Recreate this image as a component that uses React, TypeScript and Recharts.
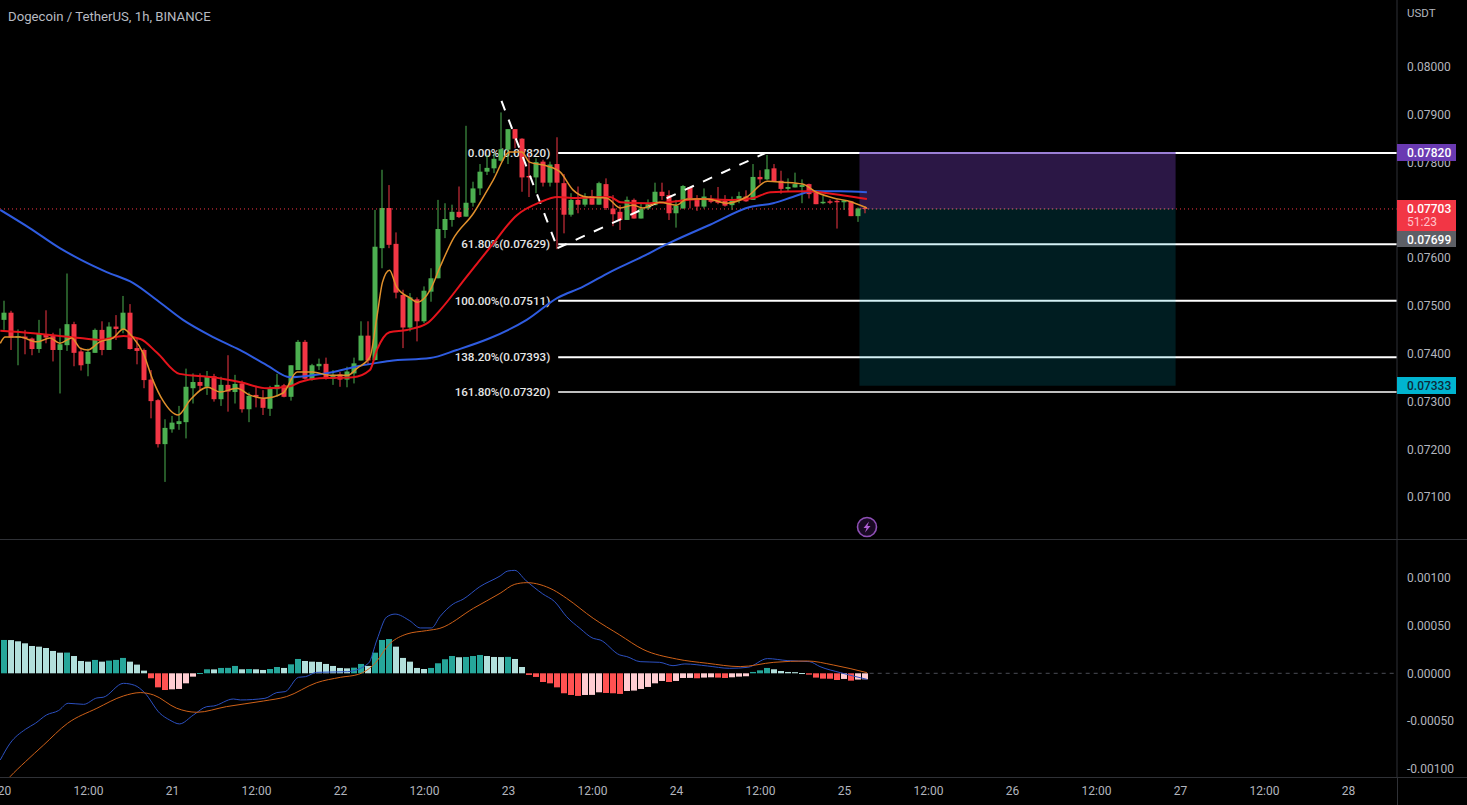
import React from "react";
import { ComposedChart, Bar, Line, XAxis, YAxis, ReferenceLine, ReferenceArea } from "recharts";

const opens = [
  .07471,.07486,.07434,.07436,.07432,.07410,.07441,.07437,.07408,.07418,.07462,.07405,.07379,.07402,.07450,.07408,.07457,.07450,.07486,.07412,
  .07408,.07346,.07303,.07211,.07242,.07253,.07257,.07328,.07341,.07331,.07353,.07305,.07335,.07320,.07338,.07284,.07314,.07307,.07285,.07326,
  .07334,.07310,.07366,.07425,.07346,.07374,.07379,.07348,.07357,.07346,.07359,.07386,.07438,.07387,.07621,.07705,.07630,.07523,.07455,.07514,
  .07468,.07530,.07558,.07659,.07680,.07697,.07687,.07716,.07746,.07781,.07788,.07804,.07827,.07870,.07850,.07772,.07769,.07802,.07758,.07797,
  .07757,.07691,.07722,.07712,.07730,.07712,.07755,.07704,.07697,.07680,.07722,.07683,.07704,.07711,.07739,.07732,.07694,.07704,.07749,.07725,
  .07708,.07725,.07723,.07720,.07711,.07722,.07729,.07722,.07770,.07765,.07788,.07762,.07745,.07748,.07749,.07755,.07739,.07715,.07719,.07720,
  .07717,.07719,.07688,.07705,
];
const closes = [
  .07486,.07434,.07437,.07432,.07410,.07443,.07434,.07408,.07420,.07462,.07402,.07376,.07404,.07450,.07408,.07457,.07452,.07486,.07410,.07406,
  .07345,.07301,.07211,.07245,.07256,.07259,.07331,.07341,.07333,.07353,.07305,.07335,.07321,.07337,.07284,.07312,.07310,.07287,.07328,.07335,
  .07310,.07376,.07425,.07348,.07376,.07379,.07348,.07356,.07346,.07363,.07380,.07438,.07386,.07624,.07705,.07628,.07528,.07455,.07518,.07468,
  .07532,.07558,.07661,.07682,.07697,.07686,.07716,.07746,.07781,.07789,.07808,.07828,.07870,.07850,.07769,.07769,.07801,.07758,.07796,.07758,
  .07691,.07722,.07712,.07730,.07712,.07757,.07705,.07692,.07680,.07722,.07683,.07704,.07713,.07739,.07730,.07694,.07710,.07751,.07725,.07708,
  .07729,.07718,.07716,.07710,.07723,.07730,.07719,.07770,.07765,.07786,.07761,.07745,.07749,.07755,.07753,.07734,.07713,.07718,.07716,.07717,
  .07721,.07688,.07704,.07703,
];
const highs = [
  .07511,.07490,.07451,.07450,.07434,.07471,.07491,.07444,.07453,.07568,.07467,.07413,.07411,.07453,.07468,.07466,.07481,.07521,.07504,.07432,
  .07411,.07366,.07305,.07263,.07270,.07291,.07369,.07359,.07359,.07364,.07358,.07352,.07397,.07356,.07344,.07319,.07333,.07324,.07333,.07358,
  .07337,.07376,.07429,.07429,.07379,.07390,.07392,.07366,.07362,.07373,.07392,.07468,.07468,.07701,.07785,.07753,.07654,.07534,.07527,.07518,
  .07541,.07579,.07722,.07715,.07712,.07750,.07877,.07760,.07797,.07816,.07820,.07905,.07870,.07870,.07851,.07820,.07809,.07806,.07802,.07853,
  .07776,.07736,.07750,.07736,.07743,.07760,.07767,.07732,.07711,.07729,.07725,.07715,.07723,.07758,.07758,.07742,.07722,.07753,.07749,.07732,
  .07746,.07732,.07749,.07732,.07729,.07739,.07742,.07797,.07784,.07816,.07797,.07783,.07767,.07779,.07765,.07756,.07742,.07730,.07723,.07723,
  .07722,.07720,.07706,.07709,
];
const lows = [
  .07450,.07408,.07376,.07399,.07397,.07402,.07422,.07384,.07317,.07406,.07374,.07365,.07353,.07402,.07397,.07408,.07429,.07443,.07409,.07378,
  .07328,.07265,.07204,.07132,.07235,.07241,.07223,.07296,.07324,.07314,.07300,.07291,.07279,.07296,.07277,.07257,.07288,.07272,.07270,.07310,
  .07309,.07302,.07366,.07346,.07344,.07366,.07346,.07335,.07331,.07330,.07338,.07386,.07377,.07386,.07579,.07621,.07516,.07412,.07447,.07426,
  .07464,.07509,.07558,.07642,.07666,.07684,.07687,.07708,.07732,.07774,.07778,.07802,.07797,.07830,.07739,.07728,.07736,.07750,.07750,.07619,
  .07652,.07687,.07694,.07708,.07712,.07712,.07701,.07667,.07659,.07680,.07683,.07683,.07701,.07711,.07722,.07680,.07664,.07704,.07704,.07699,
  .07704,.07715,.07713,.07708,.07701,.07715,.07718,.07722,.07756,.07763,.07760,.07735,.07739,.07748,.07715,.07725,.07713,.07713,.07713,.07662,
  .07701,.07688,.07676,.07694,
];
const histogram = [
  .000349,.000348,.000335,.000314,.000286,.000279,.000265,.000234,.000216,.000217,.000181,.000129,.000122,.000140,.000122,.000133,.000140,.000161,.000122,.000091,
  .000028,-.000052,-.000147,-.000175,-.000168,-.000164,-.000105,-.000035,.000003,.000042,.000041,.000056,.000057,.000077,.000042,.000045,.000042,.000035,.000045,.000066,
  .000056,.000094,.000150,.000129,.000122,.000119,.000098,.000077,.000056,.000052,.000059,.000098,.000077,.000216,.000349,.000359,.000279,.000161,.000122,.000056,
  .000045,.000056,.000105,.000147,.000181,.000168,.000171,.000181,.000192,.000181,.000171,.000170,.000172,.000150,.000066,-.000017,-.000038,-.000091,-.000105,-.000147,
  -.000209,-.000227,-.000237,-.000227,-.000226,-.000199,-.000206,-.000209,-.000216,-.000185,-.000181,-.000164,-.000143,-.000105,-.000080,-.000091,-.000080,-.000049,-.000048,-.000052,
  -.000045,-.000042,-.000045,-.000049,-.000042,-.000035,-.000031,.000014,.000031,.000056,.000042,.000024,.000014,.000012,.000003,-.000014,-.000045,-.000056,-.000057,-.000070,
  -.000059,-.000077,-.000066,-.000063,
];
const slowAverage = [
  [-0.6,.07701],[3.6,.07663],[7.9,.07621],[11,.07596],[14.6,.07571],[18.4,.07548],[21.8,.07512],[25.5,.07471],[29.8,.07435],[33.6,.07408],
  [37.5,.07376],[40.8,.07351],[44,.07355],[47,.07362],[49.8,.07372],[53.2,.07381],[55,.07385],[60.8,.07391],[64.6,.07408],[69.4,.07433],
  [74.6,.07471],[79,.07517],[82.6,.07540],[86.5,.07571],[90.4,.07598],[95,.07632],[100.8,.07670],[106.5,.07707],[109.8,.07715],[112.6,.07728],
  [115.5,.07740],[119.4,.07740],[123.2,.07738],
];
const midAverage = [
  [-0.6,.07448],[4.1,.07443],[10.8,.07433],[13.6,.07429],[17,.07437],[19.4,.07431],[21.8,.07402],[25,.07358],[29.8,.07351],[33.6,.07341],
  [37.5,.07328],[40.8,.07332],[42.2,.07341],[45,.07349],[49.8,.07351],[52.2,.07366],[53.2,.07408],[55,.07445],[57.5,.07450],[60.4,.07464],
  [62.2,.07491],[66,.07561],[69.4,.07623],[73.2,.07690],[76.5,.07717],[79,.07728],[81.2,.07726],[86.5,.07728],[88,.07717],[91.8,.07715],
  [94.6,.07717],[99.4,.07724],[104,.07722],[107,.07726],[109.4,.07738],[114.6,.07740],[116.5,.07738],[120.4,.07730],[123.2,.07724],
];
const fastAverage = [
  [-0.6,.07422],[0.1,.07435],[2.2,.07435],[4.6,.07425],[6.5,.07433],[7.9,.07422],[9.6,.07433],[10.8,.07412],[11.9,.07408],[13.6,.07425],
  [15.5,.07433],[17,.07452],[18.4,.07433],[19.8,.07402],[21.2,.07345],[22.6,.07303],[24.8,.07272],[26.5,.07303],[29,.07330],[30.8,.07320],
  [33.2,.07328],[35,.07314],[37,.07307],[39.8,.07318],[41.8,.07362],[44,.07362],[46.5,.07355],[49,.07355],[50.4,.07370],[52.2,.07393],
  [53.2,.07477],[54,.07550],[55,.07575],[56,.07540],[57.9,.07517],[59,.07508],[60.8,.07533],[62.2,.07581],[64,.07638],[67,.07694],
  [69.8,.07763],[72.2,.07822],[73.9,.07822],[75,.07801],[77.5,.07793],[79.4,.07780],[81.2,.07743],[83.2,.07728],[86,.07726],[88,.07705],
  [89.8,.07711],[91.2,.07705],[93.6,.07717],[96,.07711],[97.5,.07724],[100.4,.07724],[103.2,.07715],[106,.07728],[109,.07761],[111.2,.07759],
  [114,.07755],[116,.07738],[118.4,.07726],[120.4,.07720],[123.2,.07705],
];
const macdLine = [
  [-0.6,-.000907],[0.8,-.000733],[3,-.000586],[4.4,-.000524],[6,-.000436],[7.7,-.000391],[9.1,-.000314],[11.3,-.000325],[13.2,-.000258],[14.1,-.000251],
  [17,-.000105],[18.6,-.000126],[20,-.000202],[22.2,-.000419],[23.6,-.000489],[25,-.000530],[27,-.000436],[28.9,-.000349],[29.9,-.000342],[32.7,-.000269],
  [33.7,-.000279],[37.2,-.000262],[38.9,-.000202],[40.1,-.000192],[42,-.000042],[43,-.000035],[44.6,.00001],[49,.000017],[52,.000105],[53.2,.000349],
  [54.6,.000590],[55.8,.000620],[57.9,.000550],[59.4,.000475],[61,.000475],[62.2,.000593],[64.1,.000726],[65.5,.000775],[67.9,.000907],[70.8,.001019],
  [71.9,.001071],[72.9,.001078],[74.4,.000977],[76.9,.000831],[78.6,.00075],[80.3,.000593],[82.2,.000471],[84.1,.000366],[85.1,.000349],[87.9,.000192],
  [88.9,.000175],[90.8,.000122],[93.6,.000115],[95.5,.00008],[97.2,.000098],[100.4,.000077],[103.6,.000052],[106.2,.000063],[109,.000154],[111.8,.000133],
  [115,.000122],[116.5,.00007],[119.4,.000007],[123.2,-.000063],
];
const signalLine = [
  [-0.6,-.001200],[0.8,-.001082],[3,-.000925],[5.6,-.00075],[9,-.000524],[13.2,-.000366],[17,-.000237],[19.4,-.000202],[21.3,-.000227],[24.6,-.000366],
  [27.5,-.000408],[31.7,-.000349],[37,-.00029],[40.3,-.000244],[44.6,-.000098],[48,-.000042],[50.6,-.00001],[52.7,.000087],[55.1,.000314],[57.5,.000412],
  [60.3,.000447],[62.2,.000471],[67,.000681],[70.8,.000838],[72.9,.000932],[74.6,.000949],[78.4,.000873],[80.3,.000785],[84.1,.000576],[87.9,.000401],
  [91.2,.000251],[96,.00015],[100.4,.000105],[105.1,.00007],[109.9,.000115],[114.7,.000129],[118.4,.000087],[123.2,.000007],
];
const fibLevels = [
  { price: 0.0782, text: "0.00%(0.07820)" },
  { price: 0.07629, text: "61.80%(0.07629)" },
  { price: 0.07511, text: "100.00%(0.07511)" },
  { price: 0.07393, text: "138.20%(0.07393)" },
  { price: 0.0732, text: "161.80%(0.07320)" },
];
const zigzag = [[71, 0.07929], [79, 0.07621], [108.7, 0.0782]];
const priceTicks = [0.071, 0.072, 0.073, 0.074, 0.075, 0.076, 0.077, 0.078, 0.079, 0.08];
const macdTicks = [-0.001, -0.0005, 0, 0.0005, 0.001];
const timeTicks = [0, 12, 24, 36, 48, 60, 72, 84, 96, 108, 120, 132, 144, 156, 168, 180, 192];
const timeLabels = ["20", "12:00", "21", "12:00", "22", "12:00", "23", "12:00", "24", "12:00", "25", "12:00", "26", "12:00", "27", "12:00", "28"];

const FONT = "Roboto, 'Liberation Sans', sans-serif";
const TEXT = "#b2b5be";
const AXIS = "#2f3136";
const UP = "#4caf50";
const DOWN = "#f23645";
const X_DOMAIN: [number, number] = [-0.643, 198.93];
const PRICE_DOMAIN: [number, number] = [0.0701046, 0.0814017];

const candles = opens.map((open, i) => ({ h: i, open, close: closes[i], high: highs[i], low: lows[i], range: [lows[i], highs[i]] }));
const histColor = (i: number) => {
  const v = histogram[i];
  const prev = i > 0 ? histogram[i - 1] : v;
  if (v >= 0) return v >= prev ? "#26a69a" : "#b2dfdb";
  return v < prev ? "#ff5252" : "#ffcdd2";
};
const hist = histogram.map((v, i) => ({ h: i, v, color: histColor(i) }));
const toPoints = (rows: number[][]) => rows.map(([h, v]) => ({ h, v }));

function Candle(props: any) {
  const { x, y, width, height, payload } = props;
  const { high, low, open, close } = payload;
  const at = (p: number) => y + ((high - p) / (high - low)) * height;
  const top = at(Math.max(open, close));
  const bottom = at(Math.min(open, close));
  const color = close >= open ? UP : DOWN;
  const cx = Math.round(x + width / 2);
  return (
    <g>
      <rect x={cx - 0.5} y={y} width={1} height={height} fill={color} />
      <rect x={cx - 2.5} y={top} width={5} height={Math.max(bottom - top, 1)} fill={color} />
    </g>
  );
}

function HistBar(props: any) {
  const { x, y, width, height, payload } = props;
  const cx = Math.round(x + width / 2);
  const top = Math.min(y, y + height);
  return <rect x={cx - 3} y={top} width={6} height={Math.max(Math.abs(height), 1)} fill={payload.color} />;
}

function Tag({ top, height, bg, color, children }: any) {
  return (
    <div style={{ position: "absolute", left: 1397, top, width: 59, height, background: bg, color, fontSize: 12, fontFamily: FONT, fontWeight: 500, paddingLeft: 10, boxSizing: "border-box", lineHeight: "16px", paddingTop: 1 }}>
      {children}
    </div>
  );
}

export default function App() {
  return (
    <div style={{ position: "absolute", left: 0, top: 0, width: 1467, height: 805, background: "#000", overflow: "hidden", fontFamily: FONT }}>
      <div style={{ position: "absolute", left: 0, top: 0 }}>
        <ComposedChart width={1467} height={540} data={candles} margin={{ top: 0, right: 0, bottom: 0, left: 0 }}>
          <XAxis dataKey="h" type="number" domain={X_DOMAIN} allowDataOverflow hide />
          <YAxis orientation="right" width={70} domain={PRICE_DOMAIN} allowDataOverflow tick={false} tickLine={false} axisLine={false} />
          {fibLevels.map((f) => (
            <ReferenceLine
              key={f.text}
              segment={[{ x: 79.1, y: f.price }, { x: 198.93, y: f.price }]}
              stroke="#ffffff"
              strokeWidth={f.price === 0.0732 ? 1.5 : 2}
              ifOverflow="visible"
              label={{ value: f.text, position: "left", offset: 8, fill: "#e6e6e6", fontSize: 11.6, fontFamily: FONT, fontWeight: 500 }}
            />
          ))}
        </ComposedChart>
      </div>
      <div style={{ position: "absolute", left: 0, top: 0 }}>
        <ComposedChart width={1467} height={540} data={candles} margin={{ top: 0, right: 0, bottom: 0, left: 0 }}>
          <XAxis dataKey="h" type="number" domain={X_DOMAIN} allowDataOverflow hide />
          <YAxis
            orientation="right"
            width={70}
            domain={PRICE_DOMAIN}
            allowDataOverflow
            ticks={priceTicks}
            interval={0}
            tickFormatter={(v: number) => v.toFixed(5)}
            tick={{ fill: TEXT, fontSize: 12, fontFamily: FONT }}
            tickLine={false}
            tickMargin={4}
            axisLine={{ stroke: AXIS }}
          />
          <ReferenceLine y={0.07703} stroke="#f23645" strokeDasharray="1 3" strokeWidth={1} />
          <Bar dataKey="range" barSize={5} shape={<Candle />} isAnimationActive={false} />
          {zigzag.slice(1).map((p, i) => (
            <ReferenceLine
              key={i}
              segment={[{ x: zigzag[i][0], y: zigzag[i][1] }, { x: p[0], y: p[1] }]}
              stroke="#ffffff"
              strokeWidth={2}
              strokeDasharray="10 10"
              ifOverflow="visible"
            />
          ))}
          <Line data={toPoints(slowAverage)} dataKey="v" type="monotone" stroke="#2f5ce0" strokeWidth={2} dot={false} activeDot={false} isAnimationActive={false} />
          <Line data={toPoints(midAverage)} dataKey="v" type="monotone" stroke="#e5141c" strokeWidth={2} dot={false} activeDot={false} isAnimationActive={false} />
          <Line data={toPoints(fastAverage)} dataKey="v" type="monotone" stroke="#e0902c" strokeWidth={1.5} dot={false} activeDot={false} isAnimationActive={false} />
          <ReferenceArea x1={122.14} x2={167.3} y1={0.07703} y2={0.0782} fill="#8548d8" fillOpacity={0.32} stroke="none" ifOverflow="visible" />
          <ReferenceArea x1={122.14} x2={167.3} y1={0.07333} y2={0.07703} fill="#00acc1" fillOpacity={0.17} stroke="none" ifOverflow="visible" />
          <ReferenceLine segment={[{ x: 122.14, y: 0.0782 }, { x: 167.3, y: 0.0782 }]} stroke="#9b7fd6" strokeWidth={2} ifOverflow="visible" />
          <ReferenceLine segment={[{ x: 122.14, y: 0.07703 }, { x: 167.3, y: 0.07703 }]} stroke="#8a8a8a" strokeOpacity={0.5} strokeWidth={1} strokeDasharray="2 2" ifOverflow="visible" />
        </ComposedChart>
      </div>
      <div style={{ position: "absolute", left: 0, top: 540 }}>
        <ComposedChart width={1467} height={265} data={hist} margin={{ top: 0, right: 0, bottom: 0, left: 0 }}>
          <XAxis
            dataKey="h"
            type="number"
            domain={X_DOMAIN}
            allowDataOverflow
            ticks={timeTicks}
            interval={0}
            height={27}
            tickFormatter={(v: number) => timeLabels[timeTicks.indexOf(v)]}
            tick={{ fill: TEXT, fontSize: 12, fontFamily: FONT }}
            tickLine={false}
            tickMargin={2}
            axisLine={false}
          />
          <YAxis
            orientation="right"
            width={70}
            domain={[-0.0010963, 0.0013958]}
            allowDataOverflow
            ticks={macdTicks}
            interval={0}
            tickFormatter={(v: number) => v.toFixed(5)}
            tick={{ fill: TEXT, fontSize: 12, fontFamily: FONT }}
            tickLine={false}
            tickMargin={4}
            axisLine={{ stroke: AXIS }}
          />
          <ReferenceLine segment={[{ x: 123.6, y: 0 }, { x: 198.93, y: 0 }]} stroke="#4a4d55" strokeDasharray="4 4" ifOverflow="visible" />
          <Bar dataKey="v" barSize={6} shape={<HistBar />} isAnimationActive={false} />
          <Line data={toPoints(macdLine)} dataKey="v" type="monotone" stroke="#2c50c0" strokeWidth={1} dot={false} activeDot={false} isAnimationActive={false} />
          <Line data={toPoints(signalLine)} dataKey="v" type="monotone" stroke="#cf6118" strokeWidth={1} dot={false} activeDot={false} isAnimationActive={false} />
        </ComposedChart>
      </div>

      <div style={{ position: "absolute", left: 0, top: 539, width: 1467, height: 1, background: AXIS }} />
      <div style={{ position: "absolute", left: 0, top: 777, width: 1467, height: 1, background: AXIS }} />
      <div style={{ position: "absolute", left: 1397, top: 778, width: 1, height: 27, background: AXIS }} />

      <div style={{ position: "absolute", left: 8, top: 8, fontSize: 13.2, color: "#b8bbc2", lineHeight: "17px", whiteSpace: "nowrap" }}>Dogecoin / TetherUS, 1h, BINANCE</div>
      <div style={{ position: "absolute", left: 1407, top: 6, fontSize: 11.5, color: TEXT, lineHeight: "15px" }}>USDT</div>

      <Tag top={144} height={17} bg="#6a3ab2" color="#ffffff">0.07820</Tag>
      <Tag top={200} height={31} bg="#f23645" color="#ffffff">
        0.07703
        <div style={{ color: "#ffc4cb", fontWeight: 400, marginTop: -3 }}>51:23</div>
      </Tag>
      <Tag top={231} height={16} bg="#5d5f66" color="#ffffff">0.07699</Tag>
      <Tag top={377} height={17} bg="#00b4d0" color="#0d2a3a">0.07333</Tag>

      <svg style={{ position: "absolute", left: 855, top: 515 }} width={24} height={24}>
        <circle cx={12} cy={12} r={9.5} fill="#1a0a24" stroke="#8e4fb5" strokeWidth={1.6} />
        <path d="M14 6.5 L8.5 13 L11.6 13 L10 17.5 L15.5 11 L12.4 11 Z" fill="#b25fd6" />
      </svg>
    </div>
  );
}
